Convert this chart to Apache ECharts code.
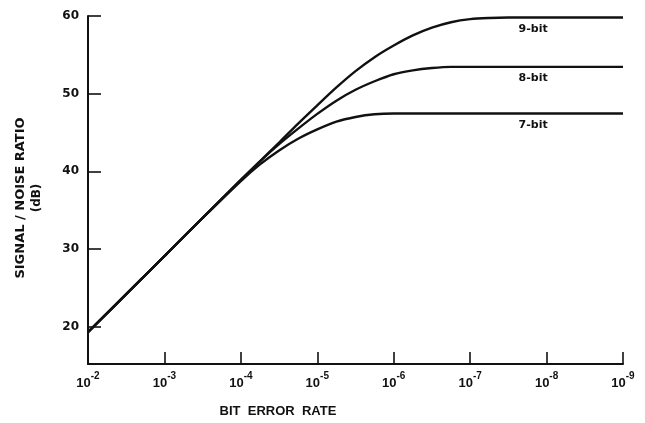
<!DOCTYPE html>
<html>
<head>
<meta charset="utf-8">
<script src="https://cdn.jsdelivr.net/npm/echarts@6/dist/echarts.min.js"></script>
<style>
  html, body { margin: 0; padding: 0; background: #ffffff; }
  #chart { width: 645px; height: 423px; }
</style>
</head>
<body>
<div id="chart"></div>
<script>
// Decade ticks on the bit-error-rate axis and dB ticks on the S/N axis
const berTicks = [1e-2, 1e-3, 1e-4, 1e-5, 1e-6, 1e-7, 1e-8, 1e-9];
const snrTicks = [20, 30, 40, 50, 60];

// Bit error rate sample points shared by the curves (half decades, then quarter decades)
const berAll = [
  1e-2, 3.16e-3, 1e-3, 3.16e-4, 1e-4,
  5.62e-5, 3.16e-5, 1.78e-5, 1e-5,
  5.62e-6, 3.16e-6, 1.78e-6, 1e-6,
  5.62e-7, 3.16e-7, 1.78e-7, 1e-7,
  5.62e-8, 3.16e-8, 1e-8, 1e-9
];

// Signal/noise ratio (dB) for each word length
const snr9bit = [19.3, 24.2, 29.1, 34.0, 38.9, 41.3, 43.7, 46.15, 48.5, 50.8, 52.9, 54.7, 56.2, 57.5, 58.5, 59.2, 59.6, 59.75, 59.8, 59.8, 59.8];
const snr8bit = [19.3, 24.2, 29.1, 34.0, 38.9, 41.3, 43.5, 45.5, 47.4, 49.1, 50.5, 51.6, 52.5, 53.0, 53.3, 53.45, 53.45, 53.45, 53.45, 53.45, 53.45];
const snr7bit = [19.3, 24.2, 29.1, 34.0, 38.75, 40.9, 42.7, 44.2, 45.4, 46.4, 47.0, 47.35, 47.45, 47.45, 47.45, 47.45, 47.45, 47.45, 47.45, 47.45, 47.45];

const curveNames = ['9-bit', '8-bit', '7-bit'];
const curveValues = [snr9bit, snr8bit, snr7bit];
const plateauLabelBer = 1.5e-8;

const FONT = '"Liberation Sans", Arial, sans-serif';
const WIDE = '"DejaVu Sans", Verdana, sans-serif';
const INK = '#111111';

const chart = echarts.init(document.getElementById('chart'), null, { renderer: 'canvas' });

const series = curveNames.map(function (name, i) {
  const vals = curveValues[i];
  return {
    name: name,
    type: 'line',
    data: berAll.map(function (b, k) { return [b, vals[k]]; }),
    smooth: 0.3,
    showSymbol: false,
    symbol: 'none',
    lineStyle: { color: INK, width: 2.4 },
    z: 3,
    markPoint: {
      symbol: 'circle',
      symbolSize: 0,
      silent: true,
      data: [{ coord: [plateauLabelBer, vals[vals.length - 1]], value: name }],
      label: {
        show: true,
        position: 'bottom',
        distance: 6,
        formatter: name,
        color: INK,
        fontFamily: WIDE,
        fontWeight: 'bold',
        fontSize: 11
      }
    }
  };
});

chart.setOption({
  animation: false,
  backgroundColor: '#ffffff',
  grid: { left: 88, right: 22, top: 16, bottom: 59, containLabel: false },
  xAxis: {
    type: 'log',
    logBase: 10,
    min: 1e-9,
    max: 1e-2,
    inverse: true,
    interval: 1,
    splitLine: { show: false },
    axisLine: { show: true, lineStyle: { color: INK, width: 2 } },
    axisTick: {
      show: true,
      inside: true,
      length: 12,
      lineStyle: { color: INK, width: 1.6 },
      customValues: berTicks
    },
    axisLabel: {
      show: true,
      margin: 7,
      customValues: berTicks,
      formatter: function (v) {
        const n = Math.round(-Math.log10(v));
        return '{b|10}{s|-' + n + '}';
      },
      rich: {
        b: { fontFamily: FONT, fontWeight: 'bold', fontSize: 13, color: INK, verticalAlign: 'bottom', lineHeight: 19 },
        s: { fontFamily: FONT, fontWeight: 'bold', fontSize: 10, color: INK, verticalAlign: 'top', lineHeight: 19 }
      }
    }
  },
  yAxis: {
    type: 'value',
    min: 15.2,
    max: 60,
    splitLine: { show: false },
    axisLine: { show: true, lineStyle: { color: INK, width: 2 } },
    axisTick: {
      show: true,
      inside: true,
      length: 13,
      lineStyle: { color: INK, width: 1.6 },
      customValues: snrTicks
    },
    axisLabel: {
      show: true,
      margin: 9,
      customValues: snrTicks,
      color: INK,
      fontFamily: WIDE,
      fontWeight: 'bold',
      fontSize: 12
    }
  },
  graphic: [
    {
      type: 'text',
      x: 21,
      y: 198,
      rotation: Math.PI / 2,
      style: {
        text: 'SIGNAL / NOISE RATIO',
        fill: INK,
        font: 'bold 13px ' + WIDE,
        align: 'center',
        verticalAlign: 'middle'
      }
    },
    {
      type: 'text',
      x: 37,
      y: 198,
      rotation: Math.PI / 2,
      style: {
        text: '(dB)',
        fill: INK,
        font: 'bold 12px ' + WIDE,
        align: 'center',
        verticalAlign: 'middle'
      }
    },
    {
      type: 'text',
      x: 278,
      y: 411,
      style: {
        text: 'BIT  ERROR  RATE',
        fill: INK,
        font: 'bold 13px ' + FONT,
        align: 'center',
        verticalAlign: 'middle'
      }
    }
  ],
  series: series
});
</script>
</body>
</html>
